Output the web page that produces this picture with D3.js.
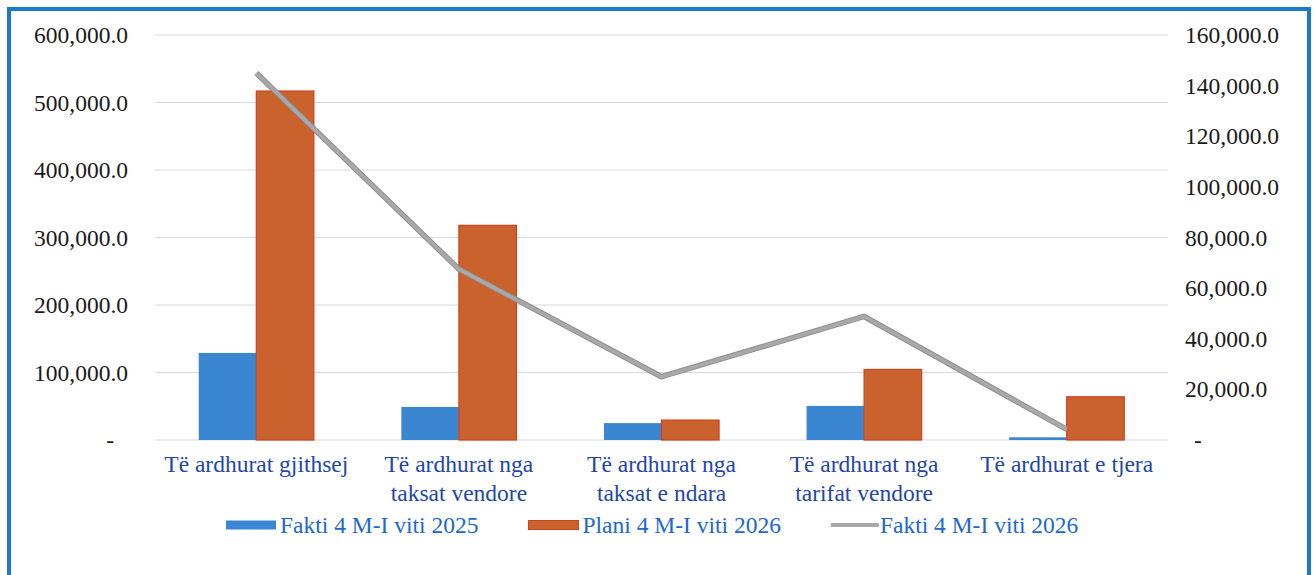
<!DOCTYPE html>
<html>
<head>
<meta charset="utf-8">
<script src="https://cdn.jsdelivr.net/npm/d3@7"></script>
<style>
  body { margin: 0; background: #fff; }
</style>
</head>
<body>
<div id="chart"></div>
<script>
// categories + values
const categories = [
  ["Të ardhurat gjithsej"],
  ["Të ardhurat nga", "taksat vendore"],
  ["Të ardhurat nga", "taksat e ndara"],
  ["Të ardhurat nga", "tarifat vendore"],
  ["Të ardhurat e tjera"]
];
const fakti2025 = [129000, 49000, 25000, 50500, 4000];
const plani2026 = [517000, 318000, 29500, 104500, 64000];
const fakti2026 = [145000, 67500, 25000, 48800, 4200];
const leftTicks = [0, 100000, 200000, 300000, 400000, 500000, 600000];
const rightTicks = [0, 20000, 40000, 60000, 80000, 100000, 120000, 140000, 160000];
const seriesNames = ["Fakti 4 M-I viti 2025", "Plani 4 M-I viti 2026", "Fakti 4 M-I viti 2026"];

const width = 1314, height = 575;
let margin = {top: 35, right: 146, bottom: 135, left: 155};
const colBlue = "#3a86d1", colOrange = "#c9622d", colLine = "#a9a9a9";
const labelBlue = "#1f47a8";
const serif = "Liberation Serif";

const svg = d3.select("#chart").append("svg")
  .attr("width", width)
  .attr("height", height)
  .attr("font-family", serif);

// blue frame round the chart
svg.append("rect")
  .attr("x", 9).attr("y", 9)
  .attr("width", 1300).attr("height", 580)
  .attr("fill", "none")
  .attr("stroke", "#1f78d0")
  .attr("stroke-width", 4);

let keys = categories.map(d => d.join(" "));
const x0 = d3.scaleBand().domain(keys)
  .range([margin.left, width - margin.right]).padding(0);
const x1 = d3.scaleBand().domain([0, 1])
  .range([0, x0.bandwidth()]).paddingInner(0).paddingOuter(0.76);
const yL = d3.scaleLinear().domain([0, 600000]).range([height - margin.bottom, margin.top]);
const yR = d3.scaleLinear().domain([0, 160000]).range([height - margin.bottom, margin.top]);

const fmt = d => d === 0 ? "-" : d3.format(",.1f")(d);

// gridlines
svg.append("g").selectAll("line").data(leftTicks).join("line")
  .attr("x1", margin.left).attr("x2", width - margin.right)
  .attr("y1", d => yL(d)).attr("y2", d => yL(d))
  .attr("stroke", "#d9d9d9").attr("stroke-width", 1);

// left axis
const gL = svg.append("g")
  .attr("transform", `translate(${margin.left},0)`)
  .call(d3.axisLeft(yL).tickValues(leftTicks).tickFormat(fmt).tickSize(0).tickPadding(27))
  .attr("font-family", serif);
gL.select(".domain").remove();
gL.selectAll("text").attr("font-size", 23.5).attr("fill", "#1a1a1a")
  .attr("font-family", serif)
  .attr("dx", d => d === 0 ? -14 : 0);

// right axis
const gR = svg.append("g")
  .attr("transform", `translate(${width - margin.right},0)`)
  .call(d3.axisRight(yR).tickValues(rightTicks).tickFormat(fmt).tickSize(0).tickPadding(17))
  .attr("font-family", serif);
gR.select(".domain").remove();
gR.selectAll("text").attr("font-size", 23.5).attr("fill", "#1a1a1a")
  .attr("font-family", serif)
  .attr("dx", d => d === 0 ? 9 : 0);

// bars
const barData = [];
keys.forEach((k, i) => {
  barData.push({k: k, s: 0, v: fakti2025[i]});
  barData.push({k: k, s: 1, v: plani2026[i]});
});
svg.append("g").selectAll("rect").data(barData).join("rect")
  .attr("x", d => x0(d.k) + x1(d.s))
  .attr("width", x1.bandwidth())
  .attr("y", d => yL(d.v))
  .attr("height", d => yL(0) - yL(d.v))
  .attr("fill", d => d.s === 0 ? colBlue : colOrange)
  .attr("stroke", d => d.s === 0 ? "none" : "#d2401f")
  .attr("stroke-width", 1.2);

// line on right axis
const line = d3.line()
  .x((d, i) => x0(keys[i]) + x0.bandwidth() / 2)
  .y(d => yR(d));
svg.append("path").datum(fakti2026)
  .attr("d", line)
  .attr("fill", "none")
  .attr("stroke", "#8f8f8f")
  .attr("stroke-width", 5.5)
  .attr("stroke-linejoin", "round");
svg.append("path").datum(fakti2026)
  .attr("d", line)
  .attr("fill", "none")
  .attr("stroke", colLine)
  .attr("stroke-width", 3.5)
  .attr("stroke-linejoin", "round");

// category labels
const catG = svg.append("g").selectAll("text").data(categories).join("text")
  .attr("x", (d, i) => x0(keys[i]) + x0.bandwidth() / 2)
  .attr("y", 472)
  .attr("text-anchor", "middle")
  .attr("font-family", serif)
  .attr("font-size", 23.5)
  .attr("fill", labelBlue);
catG.selectAll("tspan").data(d => d).join("tspan")
  .attr("x", function() { return d3.select(this.parentNode).attr("x"); })
  .attr("dy", (d, i) => i === 0 ? 0 : 29)
  .text(d => d);

// legend
const legend = svg.append("g");
let lx = 226;
const legY = 525;
seriesNames.forEach((name, i) => {
  const item = legend.append("g");
  if (i < 2) {
    item.append("rect")
      .attr("x", lx).attr("y", legY - 4.5)
      .attr("width", 50).attr("height", 9)
      .attr("fill", i === 0 ? colBlue : colOrange)
      .attr("stroke", i === 0 ? "none" : "#d2401f");
  } else {
    item.append("line")
      .attr("x1", lx).attr("x2", lx + 48)
      .attr("y1", legY).attr("y2", legY)
      .attr("stroke", colLine).attr("stroke-width", 4);
  }
  const t = item.append("text")
    .attr("x", lx + (i < 2 ? 54 : 49)).attr("y", legY + 8)
    .attr("font-family", serif)
    .attr("font-size", 23.5)
    .attr("fill", "#2068cc")
    .text(name);
  lx = lx + 54 + t.node().getComputedTextLength() + 50;
});
</script>
</body>
</html>
